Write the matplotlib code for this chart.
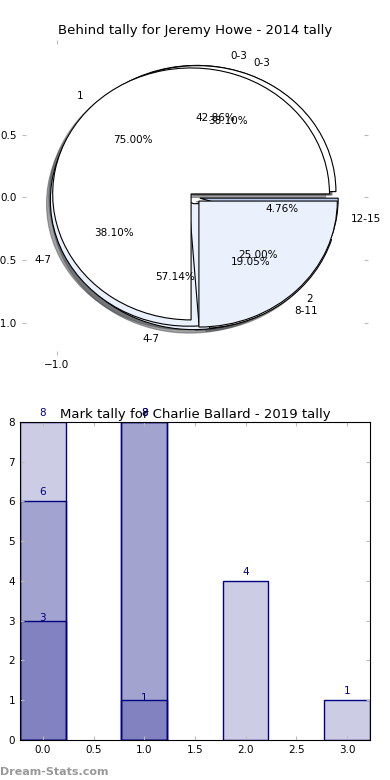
import numpy as np
import matplotlib
matplotlib.use("Agg")
import matplotlib.pyplot as plt
from matplotlib.ticker import FuncFormatter

# 数据 - pie (2014)
pie_a_labels = ['0-3', '4-7']
pie_a_values = [9, 12]
pie_b_labels = ['0-3', '4-7', '8-11', '12-15']
pie_b_values = [8, 8, 4, 1]
pie_c_labels = ['1', '2']
pie_c_values = [3, 1]

# 数据 - bars (2019), three overlapping series
bar_x1 = [0, 1, 2, 3]
bar_h1 = [8, 8, 4, 1]
bar_x2 = [0, 1]
bar_h2 = [6, 8]
bar_x3 = [0, 1]
bar_h3 = [3, 1]

plt.rcParams['font.family'] = ['DejaVu Sans']

fig = plt.figure(figsize=(3.9, 7.8), dpi=100)

# 饼图
ax1 = fig.add_axes([0.0564, 0.5449, 0.8872, 0.4038])
light = '#eaf0fc'
wp = {'edgecolor': 'black', 'linewidth': 0.8}
ax1.pie(pie_a_values, labels=pie_a_labels, colors=['white', light],
        explode=[0.05, 0.05], autopct='%.2f%%', shadow=True,
        wedgeprops=wp, textprops={'fontsize': 7.5})
ax1.pie(pie_b_values, labels=pie_b_labels, colors=['white', light, 'white', '#b7cbef'],
        explode=[0.05, 0.05, 0.05, 0.035], autopct='%.2f%%', shadow=True,
        wedgeprops=wp, textprops={'fontsize': 7.5})
ax1.pie(pie_c_values, labels=pie_c_labels, colors=['white', light],
        explode=[0.04, 0.04], autopct='%.2f%%', shadow=True,
        wedgeprops=wp, textprops={'fontsize': 7.5})
ax1.set_aspect('auto')
ax1.set_frame_on(False)
ax1.set_xlim(-1.25, 1.25)
ax1.set_ylim(-1.25, 1.25)
ax1.set_xticks([-1.0])
ax1.set_yticks([0.5, 0.0, -0.5, -1.0])
# 负号用 unicode minus
ax1.xaxis.set_major_formatter(FuncFormatter(lambda v, p: ('%.1f' % v).replace('-', '\u2212')))
ax1.tick_params(direction='in', length=3, color='#bbbbbb', labelsize=7.5,
                top=True, right=True)
ax1.set_title('Behind tally for Jeremy Howe - 2014 tally', fontsize=9.5, pad=4)

# 柱状图
ax2 = fig.add_axes([0.0513, 0.0513, 0.897, 0.408])
navy = '#000080'
for xs, hs, dy in [(bar_x1, bar_h1, 3), (bar_x2, bar_h2, 3), (bar_x3, bar_h3, -2)]:
    ax2.bar(xs, hs, width=0.45, color=navy, alpha=0.2)
    ax2.bar(xs, hs, width=0.45, fill=False, edgecolor=navy, linewidth=1)
    for x, h in zip(xs, hs):
        ax2.annotate(str(h), (x, h), xytext=(0, dy), textcoords='offset points',
                     ha='center', va='bottom', color=navy, fontsize=7.5)
ax2.set_xlim(-0.225, 3.225)
ax2.set_ylim(0, 8)
ax2.set_xticks(np.arange(0, 3.01, 0.5))
ax2.set_yticks(range(0, 9))
ax2.tick_params(direction='in', length=3, color='#bbbbbb', labelsize=7.5,
                top=True, right=True)
ax2.set_title('Mark tally for Charlie Ballard - 2019 tally', fontsize=9.5, pad=3)

fig.text(0.0, 0.004, 'Dream-Stats.com', color='#999999', fontsize=8,
         fontweight='bold', ha='left', va='bottom')

plt.savefig('out.png', dpi=100)
